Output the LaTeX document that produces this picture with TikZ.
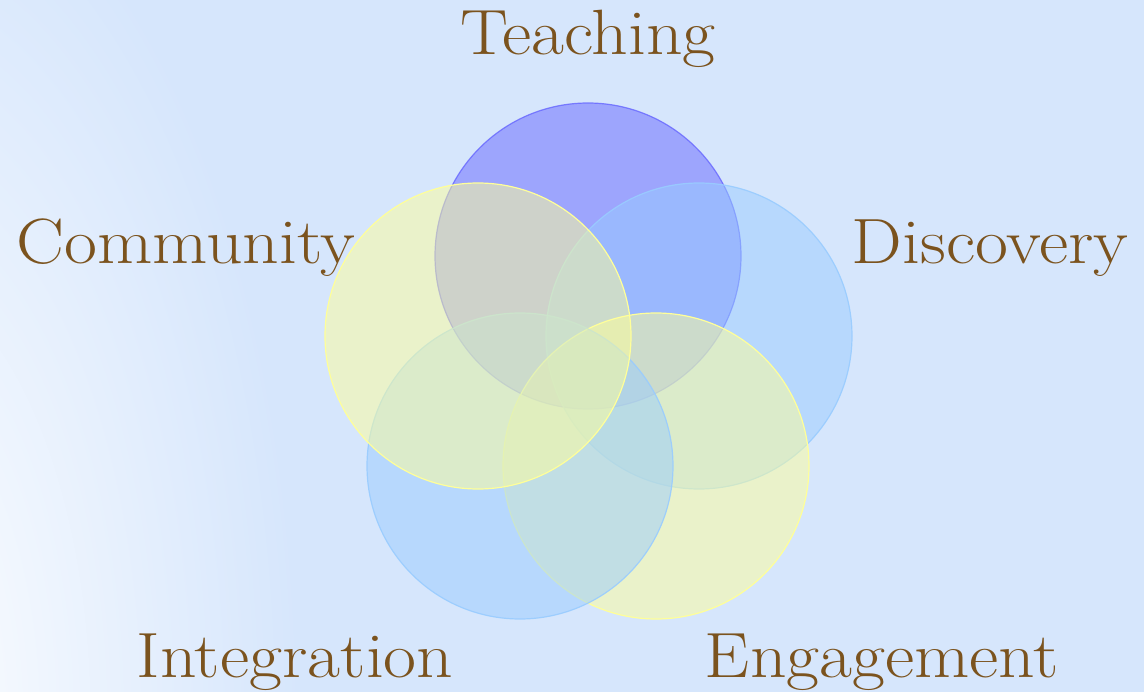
\documentclass[tikz,border=0pt]{standalone}
\definecolor{bgc}{RGB}{214,230,252}
\definecolor{txt}{RGB}{123,83,30}
\definecolor{cblue}{RGB}{102,102,255}
\definecolor{clight}{RGB}{153,204,255}
\definecolor{cyel}{RGB}{255,255,153}
\newcommand{\wlbl}[1]{\scalebox{1.12}[1]{#1}}
\tikzset{
  lbl/.style={text=txt, font=\fontsize{64}{64}\selectfont, anchor=base, inner sep=0pt},
  venn/.style={circle, minimum size=306pt, inner sep=0pt, fill opacity=0.5, line width=1.2pt},
  vblue/.style={venn, fill=cblue, draw=cblue, draw opacity=0.8},
  vlight/.style={venn, fill=clight, draw=clight, draw opacity=0.9},
  vyel/.style={venn, fill=cyel, draw=cyel, draw opacity=1}
}
\begin{document}
\begin{tikzpicture}[x=1pt,y=-1pt]
\useasboundingbox (0,0) rectangle (1144,692);
\fill[bgc] (0,0) rectangle (1144,692);
\begin{scope}
\clip (0,0) rectangle (1144,692);
\shade[inner color=white, outer color=bgc] (-120,720) ellipse [x radius=420, y radius=900];
\end{scope}
\node[vblue]  (teach) at (588,256) {};
\node[vlight] (disc)  at (699,336) {};
\node[vyel]   (eng)   at (656,466) {};
\node[vlight] (integ) at (520,466) {};
\node[vyel]   (comm)  at (478,336) {};
\node[lbl] (tTeach) at (588,55) {\wlbl{Teaching}};
\node[lbl] (tComm)  at (186,264) {\wlbl{Community}};
\node[lbl] (tDisc)  at (990,264) {\wlbl{Discovery}};
\node[lbl] (tInteg) at (295,677) {\wlbl{Integration}};
\node[lbl] (tEng)   at (882,677) {\wlbl{Engagement}};
\end{tikzpicture}
\end{document}
